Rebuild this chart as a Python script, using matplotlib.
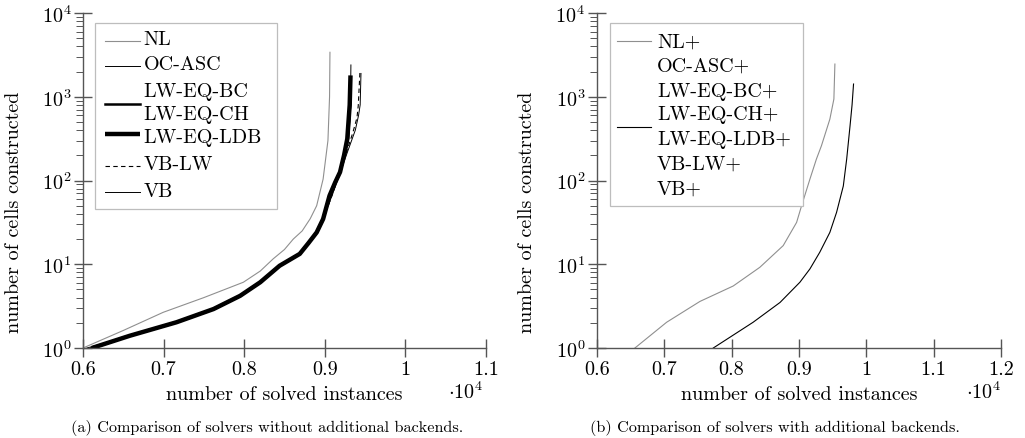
"""
Solver comparison: cells constructed vs. number of solved instances
"""

import matplotlib
matplotlib.use("Agg")
import matplotlib.pyplot as plt
from matplotlib.patches import Rectangle
from matplotlib.lines import Line2D
from matplotlib.ticker import FixedLocator, FuncFormatter, LogLocator, NullFormatter

FS = 14.5

plt.rcParams.update({
    'font.family': 'serif',
    'font.serif': ['cmr10'],
    'mathtext.fontset': 'cm',
    'axes.formatter.use_mathtext': True,
    'font.size': FS,
})

# ---- (a) without additional backends ----
nl_x = [6000, 6500, 6996, 7500, 7990, 8200, 8360, 8500, 8610, 8720, 8820, 8900, 8980, 9040, 9060, 9065]
nl_y = [1, 1.62, 2.67, 4.0, 6.1, 8.3, 11.6, 15, 20, 25, 35, 50, 104, 300, 1000, 3400]

ocasc_x = [6050, 6580, 7160, 7620, 7950, 8200, 8440, 8690, 8800, 8900, 8980, 9060, 9130, 9190, 9240, 9290, 9320, 9325]
ocasc_y = [1, 1.4, 2.03, 2.92, 4.2, 6.1, 9.6, 13.3, 18, 24, 34.7, 66, 95, 126, 200, 320, 900, 2400]

lwbc_x = [6110, 6580, 7160, 7620, 7950, 8200, 8440, 8690, 8800, 8900, 8980, 9060, 9130, 9190, 9240, 9285, 9315, 9320]
lwbc_y = [1, 1.4, 2.03, 2.92, 4.2, 6.1, 9.6, 13.3, 18, 24, 34.7, 66, 95, 126, 200, 314, 800, 1500]

lwch_x = [6110, 6580, 7160, 7620, 7950, 8200, 8440, 8690, 8800, 8900, 8980, 9060, 9130, 9190, 9240, 9290, 9318, 9322]
lwch_y = [1, 1.4, 2.03, 2.92, 4.2, 6.1, 9.6, 13.3, 18, 24, 34.7, 66, 95, 126, 200, 320, 900, 1400]

lwldb_x = [6110, 6580, 7160, 7620, 7950, 8200, 8440, 8690, 8800, 8900, 8980, 9060, 9130, 9190, 9240, 9280, 9310, 9320]
lwldb_y = [1, 1.4, 2.03, 2.92, 4.2, 6.1, 9.6, 13.3, 18, 24, 34.7, 66, 95, 126, 200, 314, 800, 1800]

vblw_x = [6110, 6580, 7160, 7620, 7950, 8200, 8440, 8690, 8800, 8900, 8980, 9100, 9190, 9270, 9350, 9400, 9416, 9437]
vblw_y = [1, 1.4, 2.03, 2.92, 4.2, 6.1, 9.6, 13.3, 18, 24, 34.7, 70, 130, 217, 376, 560, 780, 1960]

vb_x = [6110, 6580, 7160, 7620, 7950, 8200, 8440, 8690, 8800, 8900, 8980, 9100, 9200, 9290, 9380, 9420, 9440, 9450]
vb_y = [1, 1.4, 2.03, 2.92, 4.2, 6.1, 9.6, 13.3, 18, 24, 34.7, 70, 130, 230, 400, 600, 800, 1900]

# ---- (b) with additional backends ----
nlp_x = [6564, 7035, 7530, 8024, 8420, 8767, 8966, 9040, 9164, 9260, 9335, 9460, 9520, 9535]
nlp_y = [1, 2.03, 3.6, 5.5, 9.2, 16.7, 31.6, 50, 104, 180, 260, 540, 940, 2460]

others_x = [7728, 8320, 8720, 9015, 9164, 9310, 9460, 9560, 9660, 9710, 9760, 9790, 9812]
others_y = [1, 2.03, 3.5, 6.1, 8.8, 13.9, 24, 41.7, 86, 180, 450, 800, 1420]

left_labels = ['NL', 'OC-ASC', 'LW-EQ-BC', 'LW-EQ-CH', 'LW-EQ-LDB', 'VB-LW', 'VB']
right_labels = [s + '+' for s in left_labels]

GRAY = '#8f8f8f'
SPINE = '#555555'

fig = plt.figure(figsize=(10.25, 4.39), dpi=100)
ax1 = fig.add_axes([0.081, 0.205, 0.393, 0.763])
ax2 = fig.add_axes([0.5824, 0.205, 0.394, 0.763])

ax1.plot(nl_x, nl_y, color=GRAY, lw=0.8)
ax1.plot(lwldb_x, lwldb_y, color='black', lw=3.2, solid_capstyle='butt')
ax1.plot(lwbc_x, lwbc_y, color='black', lw=1.8)
ax1.plot(lwch_x, lwch_y, color='black', lw=1.8)
ax1.plot(ocasc_x, ocasc_y, color='black', lw=0.7)
ax1.plot(vblw_x, vblw_y, color='black', lw=0.8, ls=(0, (4, 3)))
ax1.plot(vb_x, vb_y, color='black', lw=0.7)

ax2.plot(nlp_x, nlp_y, color=GRAY, lw=0.8)
ax2.plot(others_x, others_y, color='black', lw=0.8)

xfmt = FuncFormatter(lambda v, p: f"{v / 1e4:g}")
for ax, xmax, xticks in [(ax1, 11000, [6000, 7000, 8000, 9000, 10000, 11000]),
                         (ax2, 12000, [6000, 7000, 8000, 9000, 10000, 11000, 12000])]:
    ax.set_yscale('log')
    ax.set_xlim(6000, xmax)
    ax.set_ylim(1, 1e4)
    ax.xaxis.set_major_locator(FixedLocator(xticks))
    ax.xaxis.set_major_formatter(xfmt)
    ax.yaxis.set_major_locator(LogLocator(base=10, numticks=10))
    ax.yaxis.set_minor_locator(LogLocator(base=10, subs=range(2, 10), numticks=20))
    ax.yaxis.set_minor_formatter(NullFormatter())
    for side in ['top', 'right']:
        ax.spines[side].set_visible(False)
    for side in ['left', 'bottom']:
        ax.spines[side].set_color(SPINE)
        ax.spines[side].set_linewidth(1.0)
    ax.tick_params(which='major', direction='inout', length=13, width=1.0, color=SPINE,
                   labelsize=FS, pad=2)
    ax.tick_params(which='minor', direction='out', length=5, width=0.7, color=SPINE)
    ax.set_xlabel('number of solved instances', fontsize=FS)
    ax.set_ylabel('number of cells constructed', fontsize=FS)
    ax.xaxis.set_label_coords(0.5, -0.112)

ax1.yaxis.set_label_coords(-0.149, 0.409)
ax2.yaxis.set_label_coords(-0.151, 0.409)
ax1.text(0.950, -0.128, r'$\cdot 10^4$', transform=ax1.transAxes, ha='center', va='center', fontsize=FS)
ax2.text(0.958, -0.128, r'$\cdot 10^4$', transform=ax2.transAxes, ha='center', va='center', fontsize=FS)


def draw_legend(ax, box, text_x, rows, samples):
    """pgfplots-like legend drawn by hand (axes fraction coordinates)"""
    x0, y0, x1, y1 = box
    ax.add_patch(Rectangle((x0, y0), x1 - x0, y1 - y0, transform=ax.transAxes,
                           facecolor='white', edgecolor='#bdbdbd', lw=0.9, zorder=5))
    for label, ty in rows:
        ax.text(text_x, ty, label, transform=ax.transAxes, va='center', ha='left',
                fontsize=FS, zorder=6)
    for (sx0, sx1, sy, kw) in samples:
        ax.add_line(Line2D([sx0, sx1], [sy, sy], transform=ax.transAxes, zorder=6, **kw))


left_rows = list(zip(left_labels, [0.922, 0.848, 0.767, 0.699, 0.630, 0.549, 0.469]))
left_samples = [
    (0.055, 0.141, 0.917, dict(color=GRAY, lw=0.8)),
    (0.055, 0.141, 0.842, dict(color='black', lw=0.7)),
    (0.055, 0.141, 0.728, dict(color='black', lw=1.8)),
    (0.055, 0.141, 0.639, dict(color='black', lw=3.2, solid_capstyle='butt')),
    (0.055, 0.141, 0.544, dict(color='black', lw=0.8, ls=(0, (4, 3)))),
    (0.055, 0.141, 0.465, dict(color='black', lw=0.7)),
]
draw_legend(ax1, (0.030, 0.415, 0.481, 0.970), 0.150, left_rows, left_samples)

right_rows = list(zip(right_labels, [0.916, 0.842, 0.767, 0.699, 0.624, 0.549, 0.475]))
right_samples = [
    (0.049, 0.135, 0.917, dict(color=GRAY, lw=0.8)),
    (0.049, 0.135, 0.659, dict(color='black', lw=0.8)),
]
draw_legend(ax2, (0.032, 0.424, 0.510, 0.970), 0.1485, right_rows, right_samples)

fig.text(267 / 1025, 1 - 428 / 439, '(a) Comparison of solvers without additional backends.',
         ha='center', va='center', fontsize=11.7)
fig.text(775 / 1025, 1 - 428 / 439, '(b) Comparison of solvers with additional backends.',
         ha='center', va='center', fontsize=11.7)

fig.savefig('out.png', dpi=100)
